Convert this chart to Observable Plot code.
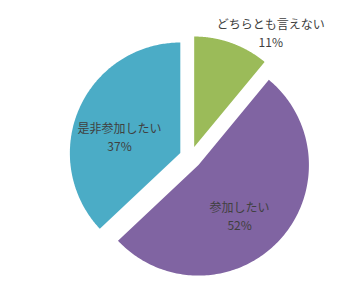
<!DOCTYPE html>
<html><head><meta charset="utf-8">
<script src="https://cdn.jsdelivr.net/npm/d3@7"></script>
<script src="https://cdn.jsdelivr.net/npm/@observablehq/plot@0.6"></script>
<style>body{margin:0;background:#fff;} svg{display:block;}</style>
</head><body><div id="chart"></div>
<script>
const categories = ["どちらとも言えない", "参加したい", "是非参加したい"];
const values = [11, 52, 37];
const percentLabels = ["11%", "52%", "37%"];
const colors = ["#9BBB59", "#8064A2", "#4BACC6"];

const total = d3.sum(values);
const explode = 0.1;
let acc = 0;
const slices = categories.map((c, i) => {
  const a0 = acc / total * 2 * Math.PI; acc += values[i];
  const a1 = acc / total * 2 * Math.PI;
  const mid = (a0 + a1) / 2;
  return {category: c, pct: percentLabels[i], a0, a1, mid,
          ox: explode * Math.sin(mid), oy: explode * Math.cos(mid),
          inside: values[i] > 20};
});
const pts = [];
for (const s of slices) {
  pts.push({category: s.category, x: s.ox, y: s.oy});
  const n = 180;
  for (let k = 0; k <= n; k++) {
    const a = s.a0 + (s.a1 - s.a0) * k / n;
    pts.push({category: s.category, x: s.ox + Math.sin(a), y: s.oy + Math.cos(a)});
  }
  pts.push({category: s.category, x: s.ox, y: s.oy});
}
const inLabels = slices.filter(s => s.inside).map(s => ({
  x: s.ox + 0.56 * Math.sin(s.mid), y: s.oy + 0.56 * Math.cos(s.mid),
  text: s.category + "\n" + s.pct}));
const outLabels = slices.filter(s => !s.inside).map(s => ({
  x: s.ox + 1.3 * Math.sin(s.mid), y: s.oy + 1.3 * Math.cos(s.mid),
  text: s.category + "\n" + s.pct}));

const font = "'Noto Sans CJK JP', 'Noto Sans', sans-serif";
const chart = Plot.plot({
  width: 360, height: 283, margin: 0,
  x: {domain: [-1.72, 1.54], axis: null},
  y: {domain: [-1.14, 1.42], axis: null},
  color: {domain: categories, range: colors},
  style: {fontFamily: font, background: "#fff"},
  marks: [
    Plot.line(pts, {x: "x", y: "y", z: "category", fill: "category", stroke: "none", curve: "linear"}),
    Plot.text(inLabels, {x: "x", y: "y", text: "text", fill: "#404040", fontSize: 12, lineHeight: 1.5, dx: -4, dy: 8}),
    Plot.text(outLabels, {x: "x", y: "y", text: "text", fill: "#404040", fontSize: 12, lineHeight: 1.5, dx: 28, dy: 20})
  ]
});
document.getElementById("chart").append(chart);
</script>
</body></html>
